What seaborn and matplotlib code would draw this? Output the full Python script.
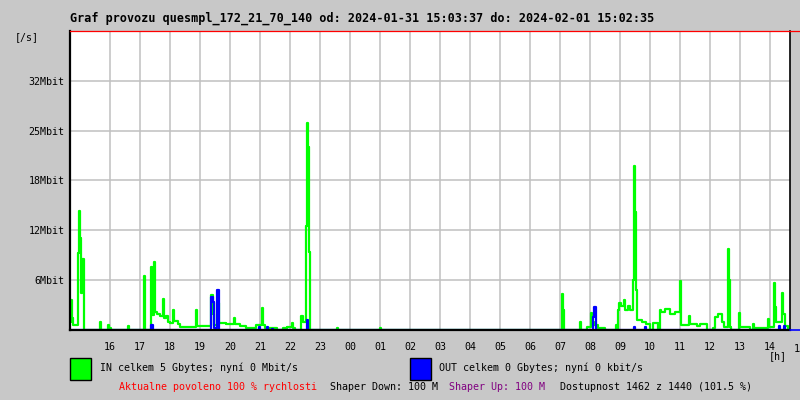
import numpy as np
import pandas as pd
import matplotlib
matplotlib.use('Agg')
import matplotlib.pyplot as plt
from matplotlib.patches import Rectangle
from matplotlib.lines import Line2D
import seaborn as sns

# minutes from left edge of graph (14:40) -> traffic in Mbit/s (value held until next point)
in_min = [0, 1, 2, 4, 6, 15, 18, 20, 22, 24, 27,
          59, 61, 76, 78, 82, 115, 117,
          147, 149, 161, 164, 168, 170, 174, 180, 185, 187, 192, 196, 200, 205, 207, 216, 220,
          251, 253, 281, 285, 288, 294, 298, 312, 327, 330, 340, 352,
          372, 383, 385, 390, 414, 426, 434, 443, 446, 450,
          462, 466, 471, 473, 475, 477, 479, 533, 535, 620, 622,
          983, 986, 988, 1019, 1022, 1034, 1041, 1044, 1048, 1056, 1070,
          1091, 1094, 1096, 1098, 1102, 1107, 1110, 1116, 1120, 1125, 1127, 1129, 1131, 1133,
          1144, 1152, 1160, 1165, 1176, 1179, 1182, 1190, 1200, 1210, 1219, 1221,
          1237, 1240, 1254, 1260, 1274, 1286, 1290, 1296, 1304, 1307, 1315, 1317, 1319, 1322,
          1337, 1339, 1360, 1365, 1367, 1374, 1395, 1397, 1407, 1409, 1412,
          1423, 1426, 1429, 1436, 1440]
in_mbit = [1.0, 2.5, 3.7, 1.5, 0.6, 9.6, 14.9, 11.5, 4.6, 8.9, 0,
           1.0, 0, 0.6, 0.3, 0, 0.5, 0,
           6.75, 0, 7.9, 1.9, 8.5, 2.25, 2.0, 1.8, 3.9, 1.5, 1.8, 1.0, 0.9, 2.5, 1.1, 0.8, 0.4,
           2.5, 0.5, 4.4, 2.0, 0.6, 3.4, 0.9, 0.8, 1.5, 0.7, 0.5, 0.2,
           0.6, 2.75, 0.6, 0.3, 0, 0.2, 0.4, 0.9, 0.2, 0,
           1.75, 1.0, 13.0, 26.0, 22.9, 9.75, 0, 0.2, 0, 0.2, 0,
           4.5, 2.5, 0, 1.0, 0, 0.4, 2.1, 1.0, 0.6, 0.3, 0,
           0.6, 0, 2.5, 3.4, 3.0, 3.75, 2.5, 3.0, 2.5, 6.25, 20.6, 14.75, 5.0, 1.2,
           1.0, 0.8, 0, 0.9, 0, 2.5, 2.2, 2.6, 2.0, 2.3, 6.1, 0.6,
           1.75, 0.7, 0.5, 0.7, 0, 0.2, 1.6, 2.0, 1.0, 0.4, 10.1, 6.25, 0.4, 0,
           2.1, 0.4, 0, 0.75, 0.2, 0.3, 1.4, 0.4, 5.9, 2.9, 1.0,
           4.6, 2.0, 0.5, 0, 0]

out_min = [0, 162, 165, 281, 285, 288, 294, 297, 378, 380, 393, 396, 404, 406,
           473, 476, 1046, 1048, 1052, 1127, 1129, 1150, 1152, 1417, 1420, 1427, 1430, 1440]
out_mbit = [0, 0.6, 0, 4.1, 3.5, 0.3, 5.0, 0, 0.4, 0, 0.4, 0, 0.15, 0,
            1.25, 0, 1.6, 2.9, 0, 0.4, 0, 0.4, 0, 0.5, 0, 0.5, 0, 0]

hour_labels = ['16', '17', '18', '19', '20', '21', '22', '23', '00', '01', '02', '03',
               '04', '05', '06', '07', '08', '09', '10', '11', '12', '13', '14']
y_labels = ['6Mbit', '12Mbit', '18Mbit', '25Mbit', '32Mbit']

title = 'Graf provozu quesmpl_172_21_70_140 od: 2024-01-31 15:03:37 do: 2024-02-01 15:02:35'

df_in = pd.DataFrame({'min': in_min, 'mbit': in_mbit})
df_out = pd.DataFrame({'min': out_min, 'mbit': out_mbit})

sns.set_theme(style='white')
plt.rcParams['font.family'] = ['DejaVu Sans Mono']
plt.rcParams['text.color'] = 'black'

bg = '#c8c8c8'
fig = plt.figure(figsize=(8, 4), dpi=100, facecolor=bg)
ax = fig.add_axes([70 / 800, 70 / 400, 720 / 800, 299 / 400])
ax.set_facecolor('white')

sns.lineplot(data=df_in, x='min', y='mbit', ax=ax, color='#00ff00', lw=1.6,
             drawstyle='steps-post', zorder=3)
sns.lineplot(data=df_out, x='min', y='mbit', ax=ax, color='#0000ff', lw=1.6,
             drawstyle='steps-post', zorder=4)

ax.set_xlim(0, 1440)
ax.set_ylim(0, 37.5)
ax.set_xticks([80 + 60 * i for i in range(len(hour_labels))])
ax.set_xticklabels(hour_labels)
ax.set_yticks([6.25 * (i + 1) for i in range(len(y_labels))])
ax.set_yticklabels(y_labels)
ax.tick_params(axis='both', length=0, labelsize=7.2, colors='black')
ax.tick_params(axis='x', pad=9)
ax.tick_params(axis='y', pad=4)
ax.set_xlabel('')
ax.set_ylabel('')
ax.grid(True, color='#c0c0c0', lw=1.1)
ax.set_axisbelow(True)

for side in ['left', 'bottom']:
    ax.spines[side].set_color('black')
    ax.spines[side].set_linewidth(1.6)
ax.spines['right'].set_color('black')
ax.spines['right'].set_linewidth(1.2)
ax.spines['top'].set_color('#ff0000')
ax.spines['top'].set_linewidth(0.9)
for sp in ax.spines.values():
    sp.set_zorder(6)

# the hour label after 14 is cut by the image edge, as in the original
ax.text(1460, -1.7, '15', fontsize=7.2, ha='center', va='top', clip_on=False)

# little line stubs right of the graph
fig.add_artist(Line2D([790 / 800, 1], [1 - 31 / 400] * 2, color='#ff0000', lw=0.9))
fig.add_artist(Line2D([790 / 800, 1], [70 / 400] * 2, color='#0000ff', lw=1.2))

fig.text(70 / 800, 1 - 18 / 400, title, fontsize=8.45, fontweight='bold', ha='left', va='center')
fig.text(15 / 800, 1 - 37 / 400, '[/s]', fontsize=7.2, ha='left', va='center')
fig.text(778 / 800, 1 - 356 / 400, '[h]', fontsize=7.2, ha='center', va='center')

fig.add_artist(Rectangle((70 / 800, 20 / 400), 21 / 800, 22 / 400, facecolor='#00ff00',
                         edgecolor='black', lw=1, transform=fig.transFigure))
fig.add_artist(Rectangle((410 / 800, 20 / 400), 21 / 800, 22 / 400, facecolor='#0000ff',
                         edgecolor='black', lw=1, transform=fig.transFigure))
fig.text(100 / 800, 1 - 368 / 400, 'IN celkem 5 Gbytes; nyní 0 Mbit/s', fontsize=7.2,
         ha='left', va='center')
fig.text(439 / 800, 1 - 368 / 400, 'OUT celkem 0 Gbytes; nyní 0 kbit/s', fontsize=7.2,
         ha='left', va='center')

row_y = 1 - 387 / 400
fig.text(119 / 800, row_y, 'Aktualne povoleno 100 % rychlosti', color='#ff0000', fontsize=7.2,
         ha='left', va='center')
fig.text(330 / 800, row_y, 'Shaper Down: 100 M', color='black', fontsize=7.2, ha='left', va='center')
fig.text(449 / 800, row_y, 'Shaper Up: 100 M', color='#800080', fontsize=7.2, ha='left', va='center')
fig.text(560 / 800, row_y, 'Dostupnost 1462 z 1440 (101.5 %)', color='black', fontsize=7.2,
         ha='left', va='center')

fig.savefig('out.png', dpi=100, facecolor=bg)
